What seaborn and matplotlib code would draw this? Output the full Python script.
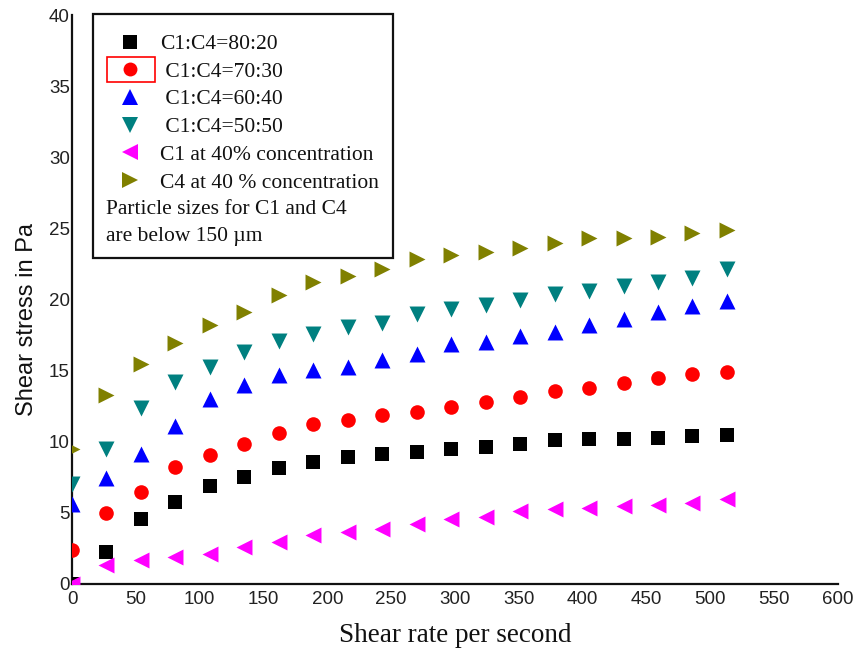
import matplotlib
matplotlib.use("Agg")
import matplotlib.pyplot as plt
from matplotlib.lines import Line2D
from matplotlib.patches import Rectangle
import pandas as pd
import seaborn as sns

# Shear rate (1/s) at which each blend was measured
shear_rate = [0, 27, 54, 81, 108, 135, 162, 189, 216, 243,
              270, 297, 324, 351, 378, 405, 432, 459, 486, 513]

# Shear stress (Pa) for each sample
c1c4_80_20 = [0, 2.25, 4.55, 5.75, 6.9, 7.5, 8.15, 8.6, 8.95, 9.15,
              9.3, 9.5, 9.6, 9.85, 10.1, 10.2, 10.2, 10.25, 10.4, 10.45]
c1c4_70_30 = [2.4, 5.0, 6.5, 8.2, 9.1, 9.85, 10.6, 11.25, 11.5, 11.9,
              12.1, 12.45, 12.8, 13.15, 13.55, 13.8, 14.15, 14.5, 14.75, 14.9]
c1c4_60_40 = [5.6, 7.45, 9.15, 11.1, 13.0, 14.0, 14.7, 15.05, 15.25, 15.75,
              16.2, 16.9, 17.0, 17.45, 17.7, 18.2, 18.6, 19.1, 19.55, 19.9]
c1c4_50_50 = [7.0, 9.5, 12.4, 14.2, 15.25, 16.3, 17.1, 17.6, 18.1, 18.35,
              19.0, 19.35, 19.6, 19.95, 20.4, 20.6, 20.95, 21.25, 21.5, 22.15]
c1_40pct = [0, 1.35, 1.7, 1.9, 2.1, 2.6, 2.95, 3.45, 3.65, 3.85,
            4.2, 4.55, 4.7, 5.1, 5.25, 5.35, 5.5, 5.55, 5.7, 6.0]
c4_40pct = [9.5, 13.3, 15.5, 16.95, 18.2, 19.1, 20.3, 21.2, 21.65, 22.15,
            22.85, 23.1, 23.35, 23.6, 24.0, 24.3, 24.3, 24.4, 24.7, 24.9]

series_names = ["C1:C4=80:20", " C1:C4=70:30", " C1:C4=60:40", " C1:C4=50:50",
                "C1 at 40% concentration", "C4 at 40 % concentration"]
series_values = [c1c4_80_20, c1c4_70_30, c1c4_60_40, c1c4_50_50, c1_40pct, c4_40pct]
series_colors = ["#000000", "#ff0000", "#0000ff", "#008080", "#ff00ff", "#808000"]
series_markers = ["s", "o", "^", "v", "<", ">"]
series_msize = [10, 10.5, 11.5, 11.5, 11.5, 11.5]

x_ticks = [0, 50, 100, 150, 200, 250, 300, 350, 400, 450, 500, 550, 600]
y_ticks = [0, 5, 10, 15, 20, 25, 30, 35, 40]

note_lines = ["Particle sizes for C1 and C4", "are below 150 \u00b5m"]

frames = []
for name, vals in zip(series_names, series_values):
    frames.append(pd.DataFrame({"rate": shear_rate, "stress": vals, "sample": name}))
df = pd.concat(frames, ignore_index=True)

sns.set_theme(style="white")
plt.rcParams["font.family"] = ["Liberation Sans", "DejaVu Sans"]
SERIF = ["Liberation Serif", "DejaVu Serif"]

W, H = 859, 654
fig = plt.figure(figsize=(W / 100, H / 100), dpi=100)
ax = fig.add_axes([72 / W, 1 - 584 / H, (838 - 72) / W, (584 - 15) / H])

for name, col, mk, ms in zip(series_names, series_colors, series_markers, series_msize):
    sns.scatterplot(data=df[df["sample"] == name], x="rate", y="stress",
                    marker=mk, color=col, s=ms ** 2, linewidth=0,
                    ax=ax, legend=False, zorder=3)

ax.set_xlim(0, 600)
ax.set_ylim(0, 40)
ax.set_xticks(x_ticks)
ax.set_yticks(y_ticks)
ax.set_xticklabels([str(t) for t in x_ticks])
ax.set_yticklabels([str(t) for t in y_ticks])
ax.tick_params(axis="both", length=0, labelsize=13.5, colors="#222222")
ax.tick_params(axis="x", pad=5)
ax.tick_params(axis="y", pad=1.5)

for side in ("top", "right"):
    ax.spines[side].set_visible(False)
for side in ("left", "bottom"):
    ax.spines[side].set_color("#111111")
    ax.spines[side].set_linewidth(1.6)

ax.set_xlabel("Shear rate per second", fontsize=19.5, fontfamily=SERIF, color="#111111")
ax.set_ylabel("Shear stress in Pa", fontsize=17, color="#111111")
ax.xaxis.set_label_coords(0.5, -0.0677)
ax.yaxis.set_label_coords(-0.044, 0.465)

# legend of the six samples
handles = [Line2D([], [], linestyle="", marker=mk, color=col, markersize=ms - 0.5,
                  markeredgewidth=0)
           for col, mk, ms in zip(series_colors, series_markers, series_msize)]
leg = ax.legend(handles, series_names, loc="upper left",
                bbox_to_anchor=(120 / W, 1 - 34 / H), bbox_transform=fig.transFigure,
                frameon=False, borderpad=0, borderaxespad=0,
                handlelength=0.93, handletextpad=0.93, labelspacing=0.355,
                prop={"family": SERIF, "size": 15.5})
for t in leg.get_texts():
    t.set_color("#111111")

for i, line in enumerate(note_lines):
    fig.text(106 / W, 1 - (209 + 27 * i) / H, line, ha="left", va="center",
             fontsize=15.5, fontfamily=SERIF, color="#111111")

# box around the legend and note
fig.patches.append(Rectangle((93 / W, 1 - 258 / H), 300 / W, 244 / H,
                             transform=fig.transFigure, fill=False,
                             edgecolor="#111111", linewidth=1.6, zorder=5))
# red highlight around the 70:30 marker
fig.patches.append(Rectangle((107 / W, 1 - 82 / H), 48 / W, 25 / H,
                             transform=fig.transFigure, fill=False,
                             edgecolor="#ff0000", linewidth=1.2, zorder=5))

fig.savefig("out.png", dpi=100)
